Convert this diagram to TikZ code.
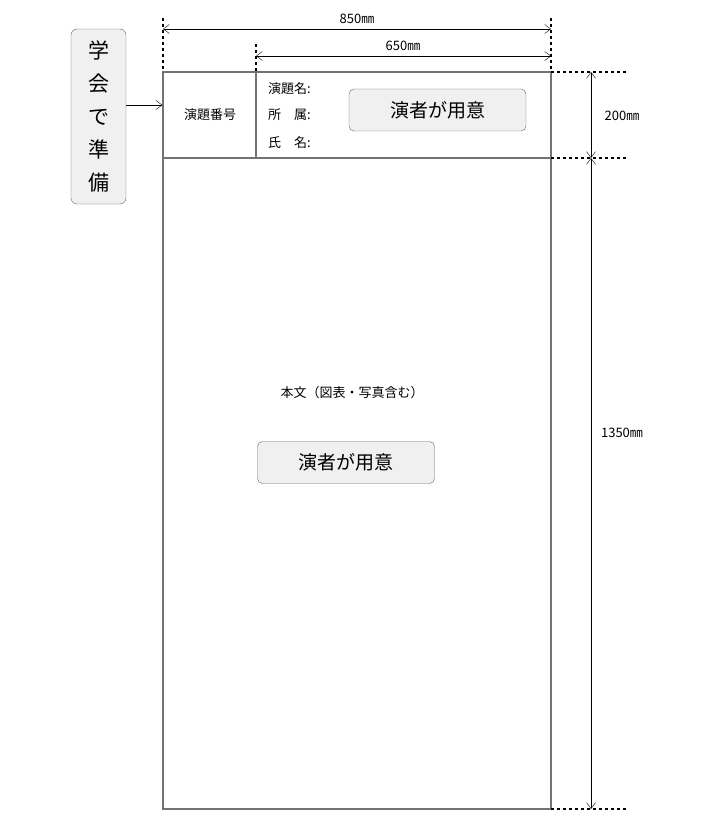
\documentclass[tikz,border=0pt]{standalone}
\usepackage{fontspec}
\setmainfont{Noto Sans CJK JP}
\usetikzlibrary{arrows.meta}
\tikzset{
    frame/.style={draw=gray!90!black, line width=2.2pt},
    extline/.style={draw, dashed, line width=1.3pt},
    dimline/.style={draw, {Straight Barb[length=6pt,width=9pt]}-{Straight Barb[length=6pt,width=9pt]}, thin},
    userbox/.style={draw=gray!80!black, rounded corners=5pt, fill=gray!12,
        minimum width=177pt, minimum height=42pt, font=\fontsize{19}{22}\selectfont},
    lbl/.style={font=\fontsize{13}{15}\selectfont, inner sep=0pt}}

\begin{document}
\begin{tikzpicture}[x=1pt,y=-1pt]
    \useasboundingbox (0,0) rectangle (720,821);
    % frame
    \coordinate (tl) at (163,72);
    \coordinate (br) at (551,809);
    \coordinate (ml) at (163,158);
    \coordinate (mr) at (551,158);
    \coordinate (st) at (256,72);
    \coordinate (sb) at (256,158);
    \draw[frame] (tl) rectangle (br);
    \draw[frame] (ml) -- (mr);
    \draw[frame] (st) -- (sb);
    % dimension helpers
    \coordinate (a1) at (163,18);
    \coordinate (a2) at (551,18);
    \coordinate (a3) at (256,44);
    \coordinate (a4) at (551,72);
    \draw[extline] (a1) -- (tl);
    \draw[extline] (a2) -- (a4);
    \draw[extline] (a3) -- (st);
    \coordinate (r1) at (628,72);
    \coordinate (r2) at (628,158);
    \coordinate (r3) at (628,809);
    \coordinate (r0) at (551,809);
    \draw[extline] (a4) -- (r1);
    \draw[extline] (mr) -- (r2);
    \draw[extline] (r0) -- (r3);
    % dimension arrows
    \coordinate (d1) at (163,29);
    \coordinate (d2) at (551,29);
    \coordinate (d3) at (256,56);
    \coordinate (d4) at (551,56);
    \coordinate (v1) at (591,72);
    \coordinate (v2) at (591,158);
    \coordinate (v3) at (591,809);
    \draw[dimline] (d1) -- (d2);
    \draw[dimline] (d3) -- (d4);
    \draw[dimline] (v1) -- (v2);
    \draw[dimline] (v2) -- (v3);
    \node[lbl] (w850) at (357,19) {850㎜};
    \node[lbl] (w650) at (403,46) {650㎜};
    \node[lbl] (h200) at (622,116) {200㎜};
    \node[lbl] (h1350) at (622,433) {1350㎜};
    % left tag
    \node[draw=gray!80!black, rounded corners=6pt, fill=gray!12, minimum width=55pt,
        minimum height=175pt, align=center, font=\fontsize{21}{33}\selectfont]
        (gakkai) at (98.5,116.5) {学\\会\\で\\準\\備};
    \node[inner sep=0pt] (tip) at (163,105) {};
    \draw[-{Straight Barb[length=6pt,width=9pt]}, thin] (gakkai.east |- tip) -- (tip);
    % header texts
    \node[lbl] (bango) at (210,115) {演題番号};
    \node[lbl, anchor=west] (endai) at (268,89) {演題名:};
    \node[lbl, anchor=west] (shozoku) at (268,115) {所\hspace{1em}属:};
    \node[lbl, anchor=west] (shimei) at (268,143) {氏\hspace{1em}名:};
    \node[userbox] (user1) at (437.5,110) {演者が用意};
    % body
    \node[lbl] (honbun) at (352,393) {本文（図表・写真含む）};
    \node[userbox] (user2) at (346,462.5) {演者が用意};
\end{tikzpicture}
\end{document}
